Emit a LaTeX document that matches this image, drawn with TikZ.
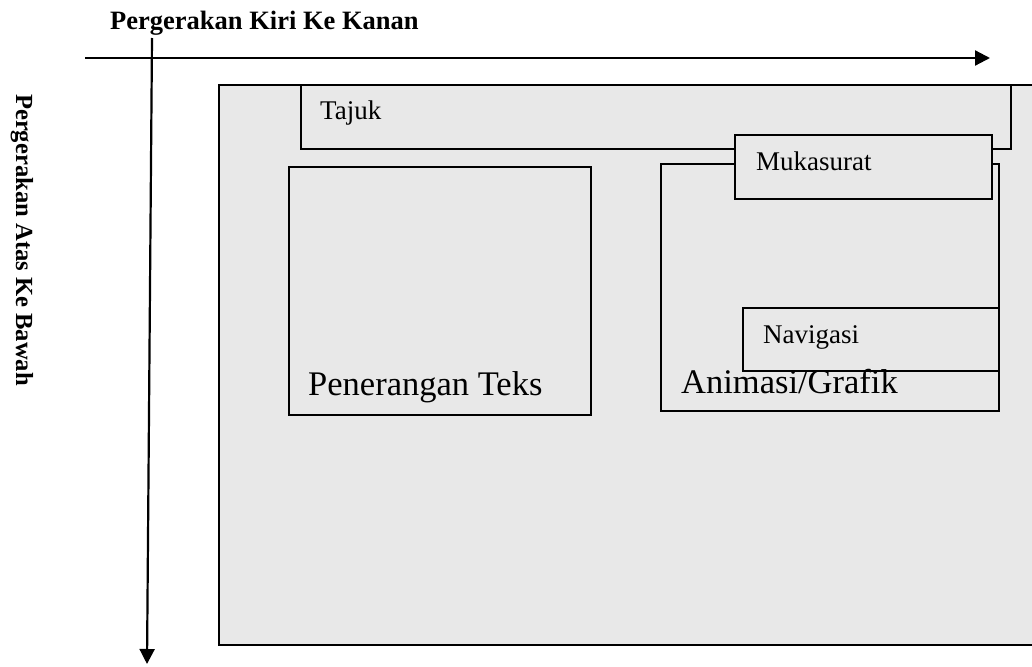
\documentclass[tikz,border=0pt]{standalone}
\usepackage{fontspec}
\setmainfont{Liberation Serif}
\usetikzlibrary{arrows.meta}
\definecolor{boxgray}{RGB}{232,232,232}
\begin{document}
\begin{tikzpicture}[x=1pt,y=-1pt,
  box/.style={draw=black, line width=1.6pt, fill=boxgray, rectangle, inner sep=0pt, anchor=north west},
  axis/.style={draw=black, line width=2.2pt, -{Triangle[length=15pt,width=15pt]}},
  lbl/.style={anchor=base west, inner sep=0pt, font=\fontsize{27}{27}\selectfont},
  biglbl/.style={anchor=base west, inner sep=0pt, font=\fontsize{34.5}{34.5}\selectfont},
  head/.style={inner sep=0pt, font=\fontsize{26.5}{26.5}\selectfont\bfseries},
  vhead/.style={inner sep=0pt, font=\fontsize{24.6}{24.6}\selectfont\bfseries}]
\useasboundingbox (0,0) rectangle (1032,666);
\clip (0,0) rectangle (1032,666);
% axes
\coordinate (hL) at (85,58);
\coordinate (hR) at (990,58);
\coordinate (vT) at (152,38);
\coordinate (vB) at (147,664);
\draw[axis] (hL) -- (hR);
\draw[axis] (vT) -- (vB);
\node[head, anchor=base west] (htext) at (110,30) {Pergerakan Kiri Ke Kanan};
\node[vhead, rotate=-90, anchor=center] (vtext) at (22,240) {Pergerakan Atas Ke Bawah};
% boxes
\node[box, minimum width=830pt, minimum height=560pt] (outer) at (218,84) {};
\node[box, minimum width=710pt, minimum height=64pt] (tajuk) at (300,84) {};
\node[box, minimum width=302pt, minimum height=248pt] (teks) at (288,166) {};
\node[box, minimum width=338pt, minimum height=247pt] (anim) at (660,163) {};
\node[box, minimum width=257pt, minimum height=64pt] (muka) at (734,134) {};
\node[box, minimum width=256pt, minimum height=63pt] (navi) at (742,307) {};
% texts
\node[lbl] (tTajuk) at (320,120) {Tajuk};
\node[lbl] (tMuka) at (756,170) {Mukasurat};
\node[lbl] (tNavi) at (763,343) {Navigasi};
\node[biglbl] (tTeks) at (308,395) {Penerangan Teks};
\node[biglbl] (tAnim) at (681,393) {Animasi/Grafik};
\end{tikzpicture}
\end{document}
